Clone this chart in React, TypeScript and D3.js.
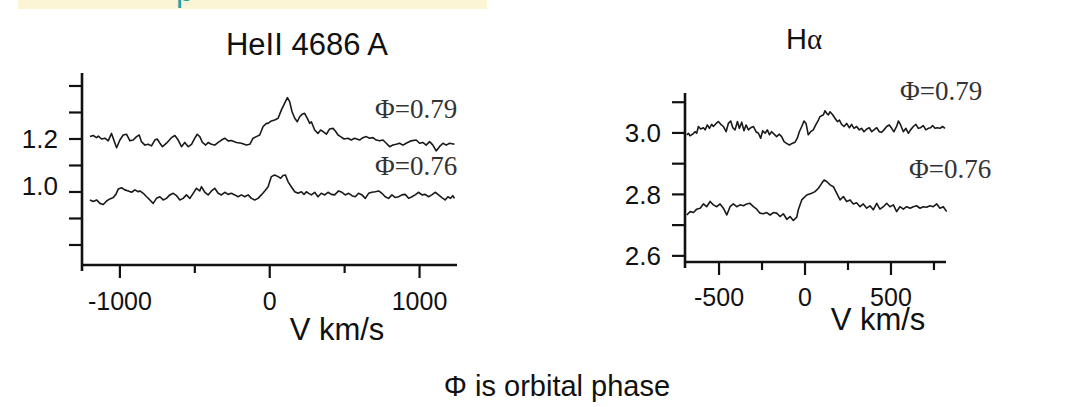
import React from "react";
import * as d3 from "d3";

// HeII 4686 A profiles (velocity km/s, relative flux)
const heVel79 = [-1200,-1178,-1156,-1144,-1122,-1100,-1078,-1056,-1033,-1022,-1000,-978,-956,-933,-911,-889,-871,-856,-833,-811,-789,-767,-751,-733,-716,-689,-656,-633,-611,-589,-567,-544,-522,-500,-484,-467,-449,-427,-411,-389,-367,-344,-322,-300,-278,-256,-222,-189,-156,-133,-111,-89,-67,-44,-22,
  -11,11,33,56,78,100,118,133,149,167,184,200,216,233,251,267,278,300,322,340,356,378,400,422,438,456,473,496,522,544,567,600,622,644,667,689,711,733,756,778,800,822,844,867,889,911,944,978,1000,1022,1044,1067,1089,1111,1133,1156,1178,1200,1233];
const heFlux79 = [1.209,1.213,1.205,1.211,1.200,1.203,1.193,1.221,1.184,1.167,1.196,1.215,1.218,1.193,1.196,1.209,1.215,1.190,1.177,1.180,1.174,1.196,1.200,1.184,1.171,1.184,1.205,1.213,1.196,1.171,1.187,1.171,1.180,1.203,1.218,1.209,1.187,1.177,1.187,1.180,1.177,1.187,1.196,1.203,1.193,1.194,1.187,1.184,1.177,1.180,1.203,1.209,1.215,1.247,1.259,
  1.259,1.268,1.272,1.278,1.310,1.335,1.356,1.341,1.303,1.278,1.265,1.284,1.293,1.297,1.278,1.259,1.265,1.234,1.221,1.234,1.228,1.218,1.238,1.240,1.230,1.215,1.209,1.200,1.203,1.196,1.203,1.196,1.205,1.209,1.203,1.205,1.196,1.193,1.196,1.184,1.171,1.177,1.180,1.184,1.177,1.184,1.193,1.196,1.184,1.187,1.177,1.190,1.177,1.155,1.171,1.184,1.177,1.184,1.180];

const heVel76 = [-1200,-1178,-1156,-1133,-1111,-1089,-1067,-1044,-1027,-1011,-989,-967,-944,-922,-900,-878,-867,-844,-822,-800,-778,-756,-733,-711,-689,-667,-644,-622,-600,-578,-556,-533,-511,-489,-467,-456,-433,-411,-389,-367,-344,-322,-300,-278,-256,-233,-211,-189,-167,-144,-122,-100,-78,-56,-33,-11,
  11,33,56,73,89,105,122,144,167,189,211,229,245,260,278,300,322,344,367,389,411,433,460,482,504,527,549,571,593,616,638,660,682,704,727,749,771,793,816,838,860,882,904,927,949,971,993,1016,1038,1060,1082,1104,1127,1149,1171,1189,1207,1222,1233];
const heFlux76 = [0.970,0.964,0.970,0.957,0.953,0.966,0.974,0.979,0.991,1.011,1.016,1.008,1.004,0.999,1.008,1.001,1.004,0.995,0.982,0.970,0.957,0.976,0.982,0.970,0.976,0.989,0.995,0.986,0.970,0.976,0.989,0.976,0.995,1.014,1.004,1.020,0.999,0.989,1.004,1.014,0.995,0.989,0.999,0.991,0.995,0.989,0.982,0.989,0.982,0.989,0.976,0.970,0.976,0.989,1.004,1.020,
  1.058,1.064,1.058,1.052,1.062,1.064,1.039,1.020,1.001,0.995,1.001,0.991,1.001,0.995,0.989,0.999,0.982,0.995,0.989,0.999,0.991,0.989,1.004,0.999,0.989,0.995,0.986,0.982,0.995,0.989,0.976,0.995,0.999,1.001,1.004,0.995,0.982,0.976,0.989,0.979,0.982,0.989,0.991,0.976,0.982,0.989,0.999,0.989,0.991,0.982,0.989,0.999,0.989,0.979,0.970,0.982,0.976,0.986,0.976];

// H-alpha profiles
const haVel79 = [-688,-678,-669,-653,-640,-630,-620,-607,-591,-581,-568,-556,-543,-533,-517,-504,-490,-475,-459,-446,-432,-420,-407,-393,-382,-368,-355,-343,-329,-316,-300,-285,-271,-258,-246,-232,-219,-207,-194,-180,-165,-149,-136,-122,-107,-91,-75,-58,-45,-33,-19,-6,6,19,33,48,64,78,87,
  107,116,126,136,145,161,174,188,200,213,227,242,258,271,285,300,316,329,343,359,374,388,401,417,432,446,459,475,490,504,517,533,543,556,572,587,601,614,630,645,659,672,688,703,717,731,742,756,769,785,800,814];
const haFlux79 = [2.994,2.999,2.991,2.996,3.004,2.999,3.021,3.013,3.017,3.010,3.026,3.015,3.028,3.021,3.031,3.037,3.028,3.021,3.004,3.031,3.039,3.017,3.010,3.037,3.015,3.035,3.007,3.026,3.010,3.017,3.021,3.004,2.999,2.983,3.007,2.999,3.010,2.994,3.004,2.996,2.988,2.996,2.988,2.972,2.966,2.961,2.966,2.970,2.983,3.004,3.021,3.039,3.031,2.994,3.004,3.010,3.028,3.042,3.053,
  3.059,3.072,3.064,3.059,3.069,3.059,3.048,3.037,3.042,3.028,3.021,3.031,3.017,3.028,3.015,3.021,3.010,3.015,3.004,3.013,3.017,3.004,3.010,3.017,3.004,3.002,3.010,3.021,3.026,3.015,3.004,3.021,3.039,3.026,3.004,3.015,2.999,3.010,3.021,3.028,3.015,3.017,3.024,3.010,3.015,3.017,3.024,3.015,3.017,3.015,3.021,3.015];

const haVel76 = [-688,-668,-649,-630,-610,-591,-572,-552,-533,-513,-494,-475,-455,-436,-417,-397,-378,-358,-339,-320,-300,-281,-262,-242,-223,-203,-184,-165,-145,-126,-106,-87,-68,-48,-39,-19,10,39,58,78,97,111,126,146,165,184,204,223,242,262,281,300,320,339,359,378,397,417,436,456,475,494,514,533,552,572,591,611,630,649,669,688,707,727,746,766,785,804,824];
const haFlux76 = [2.733,2.744,2.741,2.752,2.755,2.769,2.760,2.777,2.766,2.760,2.769,2.755,2.733,2.760,2.769,2.760,2.766,2.763,2.769,2.771,2.760,2.752,2.739,2.737,2.741,2.733,2.741,2.739,2.728,2.737,2.719,2.728,2.715,2.726,2.750,2.782,2.798,2.804,2.809,2.820,2.836,2.847,2.842,2.831,2.825,2.804,2.782,2.793,2.777,2.782,2.769,2.773,2.760,2.769,2.755,2.763,2.750,2.771,2.752,2.760,2.771,2.760,2.766,2.744,2.760,2.752,2.760,2.755,2.760,2.763,2.755,2.760,2.758,2.763,2.760,2.769,2.755,2.760,2.744];

// axis ticks and labels
const heYTicks = [0.8, 0.9, 1.0, 1.1, 1.2, 1.3, 1.4];
const heYLabels = [1.2, 1.0];
const heXMajor = [-1000, 0, 1000];
const heXMinor = [-500, 500];
const haYTicks = [2.6, 2.7, 2.8, 2.9, 3.0, 3.1];
const haYLabels = [3.0, 2.8, 2.6];
const haXMajor = [-500, 0, 500];
const haXMinor = [-250, 250, 750];

const SANS = "'Liberation Sans', Arial, sans-serif";
const SERIF = "'Liberation Serif', 'Times New Roman', serif";
const INK = "#111";

function Panel({ x, y, curves, yTicks, yLabels, xMajor, xMinor, labelShift, labelGap, xLabelY, unitY, unitX, phases }) {
  const [x0, x1] = x.range();
  const [yb, yt] = y.range();
  const line = d3.line().x((d) => x(d[0])).y((d) => y(d[1]));

  return (
    <g>
      {curves.map((c, i) => (
        <path key={i} d={line(d3.zip(c.vel, c.flux))} fill="none" stroke="#1a1a1a" strokeWidth={1.6} strokeLinejoin="round" />
      ))}
      <line x1={x0} x2={x0} y1={yt} y2={yb + 6} stroke={INK} strokeWidth={2.6} />
      <line x1={x0} x2={x1} y1={yb} y2={yb} stroke={INK} strokeWidth={2.6} />
      {yTicks.map((t) => (
        <line key={t} x1={x0 - 13} x2={x0} y1={y(t)} y2={y(t)} stroke={INK} strokeWidth={2.2} />
      ))}
      {yLabels.map((t) => (
        <text key={t} x={x0 - labelGap} y={y(t) + (labelShift[t] || 0)} dy="0.35em" textAnchor="end" fontFamily={SANS} fontSize={26} fill={INK}>
          {t.toFixed(1)}
        </text>
      ))}
      {xMajor.map((t) => (
        <g key={t}>
          <line x1={x(t)} x2={x(t)} y1={yb} y2={yb + 13} stroke={INK} strokeWidth={2.2} />
          <text x={x(t)} y={xLabelY} textAnchor="middle" fontFamily={SANS} fontSize={25} fill={INK}>
            {t}
          </text>
        </g>
      ))}
      {xMinor.map((t) => (
        <line key={t} x1={x(t)} x2={x(t)} y1={yb} y2={yb + 8} stroke={INK} strokeWidth={2.2} />
      ))}
      <text x={unitX} y={unitY} textAnchor="middle" fontFamily={SANS} fontSize={31} fill={INK}>
        V km/s
      </text>
      {phases.map((p) => (
        <text key={p.label} x={p.x} y={p.y} fontFamily={SERIF} fontSize={27} fill="#333">
          {"\u03A6=" + p.label}
        </text>
      ))}
    </g>
  );
}

export default function App() {
  const heX = d3.scaleLinear().domain([-1253, 1250]).range([82, 457]);
  const heY = d3.scaleLinear().domain([0.7245, 1.449]).range([265, 73]);
  const haX = d3.scaleLinear().domain([-698, 820]).range([685, 946]);
  const haY = d3.scaleLinear().domain([2.58, 3.13]).range([262, 93]);

  return (
    <svg width={1088} height={407} style={{ position: "absolute", left: 0, top: 0, background: "#fff" }}>
      <rect x={18} y={0} width={469} height={9} fill="#fbf5d6" />
      <text x={176} y={1} fontFamily={SANS} fontSize={32} fill="#1ba3a8">p</text>

      <text x={307} y={55} textAnchor="middle" fontFamily={SANS} fontSize={31} fill={INK}>
        HeII 4686 A
      </text>
      <text x={804} y={49} textAnchor="middle" fontSize={29} fill={INK}>
        <tspan fontFamily={SANS}>H</tspan>
        <tspan fontFamily={SERIF}>{"\u03B1"}</tspan>
      </text>

      <Panel
        x={heX}
        y={heY}
        curves={[{ vel: heVel79, flux: heFlux79 }, { vel: heVel76, flux: heFlux76 }]}
        yTicks={heYTicks}
        yLabels={heYLabels}
        xMajor={heXMajor}
        xMinor={heXMinor}
        labelShift={{ 1: -6 }}
        labelGap={24}
        xLabelY={310}
        unitX={337}
        unitY={340}
        phases={[{ label: "0.79", x: 375, y: 118 }, { label: "0.76", x: 375, y: 175 }]}
      />
      <Panel
        x={haX}
        y={haY}
        curves={[{ vel: haVel79, flux: haFlux79 }, { vel: haVel76, flux: haFlux76 }]}
        yTicks={haYTicks}
        yLabels={haYLabels}
        xMajor={haXMajor}
        xMinor={haXMinor}
        labelShift={{}}
        labelGap={24}
        xLabelY={306}
        unitX={878}
        unitY={330}
        phases={[{ label: "0.79", x: 900, y: 100 }, { label: "0.76", x: 909, y: 178 }]}
      />

      <text x={557} y={396} textAnchor="middle" fontFamily={SANS} fontSize={29} fill={INK}>
        {"\u03A6 is orbital phase"}
      </text>
    </svg>
  );
}
